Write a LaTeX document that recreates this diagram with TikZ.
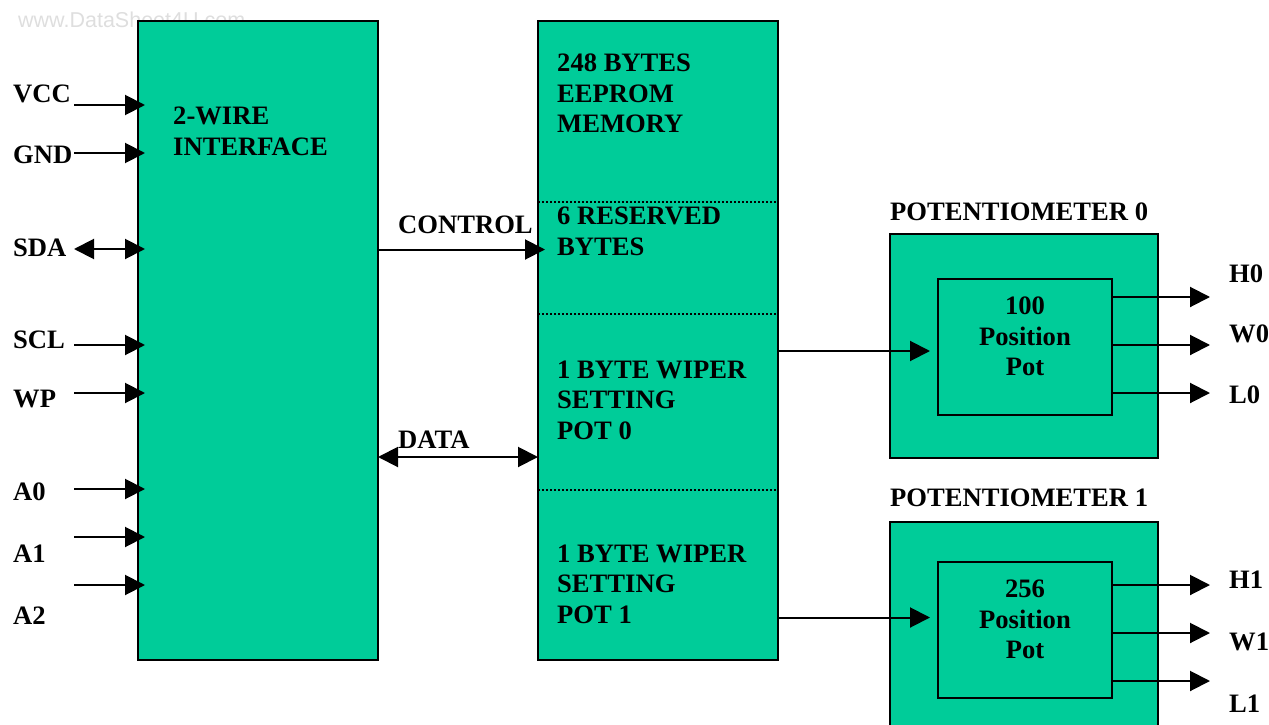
\documentclass[tikz,border=0pt]{standalone}
\usepackage{fontspec}
\setmainfont{Liberation Serif}
\newfontfamily\wmfont{Liberation Sans}
\usetikzlibrary{arrows.meta}
\definecolor{boxgreen}{RGB}{0,204,153}
\definecolor{wmgray}{RGB}{222,222,222}
\tikzset{
  x=1pt,y=-1pt,
  block/.style={draw=black,line width=2pt,fill=boxgreen,minimum width=#1,inner sep=0pt,outer sep=0pt,anchor=north west},
  lab/.style={font=\fontsize{26.6}{30.7}\selectfont\bfseries,inner sep=0pt,anchor=north west,align=left,text=black,yshift=-4.5pt},
  clab/.style={font=\fontsize{26.6}{30.7}\selectfont\bfseries,inner sep=0pt,anchor=north,align=center,text=black,yshift=-4.5pt},
  conn/.style={line width=2pt,-{Triangle[length=20pt,width=20pt]},shorten >=0pt},
  bconn/.style={line width=2pt,{Triangle[length=20pt,width=20pt]}-{Triangle[length=20pt,width=20pt]}},
  sep/.style={line width=1.5pt,dash pattern=on 2pt off 2pt},
}
\begin{document}
\begin{tikzpicture}
\useasboundingbox (0,0) rectangle (1269,725);
% watermark (lies behind the blocks)
\node[font=\wmfont\fontsize{21.5}{24}\selectfont,text=wmgray,inner sep=0pt,anchor=base west] (wm) at (18,28) {www.DataSheet4U.com};
% blocks
\node[block=240pt,minimum height=639pt] (iface) at (138,21) {};
\node[block=240pt,minimum height=639pt] (mem) at (538,21) {};
\node[block=268pt,minimum height=224pt] (pz) at (890,234) {};
\node[block=174pt,minimum height=136pt] (pzi) at (938,279) {};
\node[block=268pt,minimum height=210pt] (po) at (890,522) {};
\node[block=174pt,minimum height=136pt] (poi) at (938,562) {};
% memory separators
\coordinate (s1l) at (538,202); \coordinate (s1r) at (778,202);
\coordinate (s2l) at (538,314); \coordinate (s2r) at (778,314);
\coordinate (s3l) at (538,490); \coordinate (s3r) at (778,490);
\draw[sep] (s1l) -- (s1r);
\draw[sep] (s2l) -- (s2r);
\draw[sep] (s3l) -- (s3r);
% labels
\node[lab] (vcc) at (13,80) {VCC};
\node[lab] (gnd) at (13,141) {GND};
\node[lab] (sda) at (13,234) {SDA};
\node[lab] (scl) at (13,326) {SCL};
\node[lab] (wp) at (13,385) {WP};
\node[lab] (az) at (13,478) {A0};
\node[lab] (ao) at (13,540) {A1};
\node[lab] (at) at (13,602) {A2};
\node[lab] (tw) at (173,102) {2-WIRE\\INTERFACE};
\node[lab] (ctl) at (398,211) {CONTROL};
\node[lab] (dat) at (398,426) {DATA};
\node[lab] (m1) at (557,49) {248 BYTES\\EEPROM\\MEMORY};
\node[lab] (m2) at (557,202) {6 RESERVED\\BYTES};
\node[lab] (m3) at (557,356) {1 BYTE WIPER\\SETTING\\POT 0};
\node[lab] (m4) at (557,540) {1 BYTE WIPER\\SETTING\\POT 1};
\node[lab] (tz) at (890,198) {POTENTIOMETER 0};
\node[lab] (to) at (890,484) {POTENTIOMETER 1};
\node[clab] (pzt) at (1025,292) {100\\Position\\Pot};
\node[clab] (pot) at (1025,575) {256\\Position\\Pot};
\node[lab] (hz) at (1229,260) {H0};
\node[lab] (wz) at (1229,320) {W0};
\node[lab] (lz) at (1229,381) {L0};
\node[lab] (ho) at (1229,566) {H1};
\node[lab] (wo) at (1229,628) {W1};
\node[lab] (lo) at (1229,690) {L1};
% connector ends
\foreach \n/\y in {vcc/105,gnd/153,scl/345,wp/393,az/489,ao/537,at/585,sda/249}{
  \coordinate (\n-s) at (74,\y);
  \coordinate (\n-e) at (145,\y);
}
\draw[conn] (vcc-s) -- (vcc-e);
\draw[conn] (gnd-s) -- (gnd-e);
\draw[bconn] (sda-s) -- (sda-e);
\draw[conn] (scl-s) -- (scl-e);
\draw[conn] (wp-s) -- (wp-e);
\draw[conn] (az-s) -- (az-e);
\draw[conn] (ao-s) -- (ao-e);
\draw[conn] (at-s) -- (at-e);
\coordinate (c-s) at (378,249.5); \coordinate (c-e) at (545,249.5);
\draw[conn] (c-s) -- (c-e);
\coordinate (d-s) at (378,457); \coordinate (d-e) at (538,457);
\draw[bconn] (d-s) -- (d-e);
\coordinate (w0-s) at (778,351); \coordinate (w0-e) at (930,351);
\draw[conn] (w0-s) -- (w0-e);
\coordinate (w1-s) at (778,617.5); \coordinate (w1-e) at (930,617.5);
\draw[conn] (w1-s) -- (w1-e);
\foreach \n/\y in {hz/297,wz/345,lz/393,ho/585,wo/633,lo/681}{
  \coordinate (\n-s) at (1112,\y);
  \coordinate (\n-e) at (1210,\y);
}
\draw[conn] (hz-s) -- (hz-e);
\draw[conn] (wz-s) -- (wz-e);
\draw[conn] (lz-s) -- (lz-e);
\draw[conn] (ho-s) -- (ho-e);
\draw[conn] (wo-s) -- (wo-e);
\draw[conn] (lo-s) -- (lo-e);
\end{tikzpicture}
\end{document}
